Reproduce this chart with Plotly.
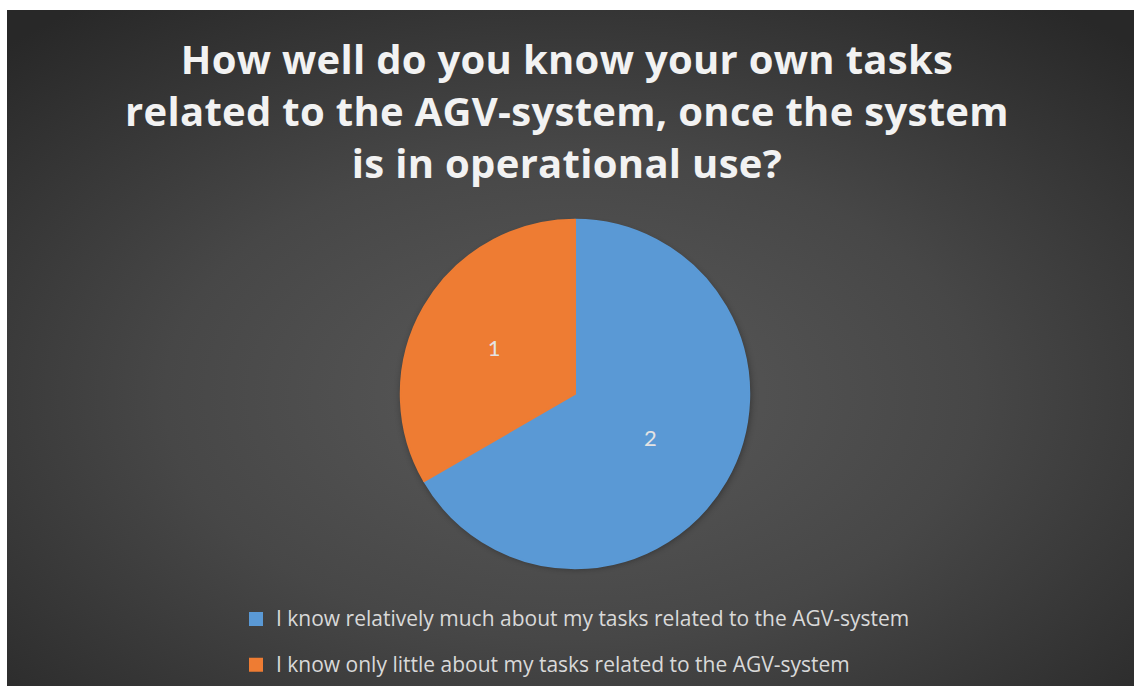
import base64
import plotly.graph_objects as go

# ---- data ----
labels = [
    "I know relatively much about my tasks related to the AGV-system",
    "I know only little about my tasks related to the AGV-system",
]
values = [2, 1]
colors = ["#5a99d5", "#ee7c33"]
title_lines = [
    "How well do you know your own tasks",
    "related to the AGV-system, once the system",
    "is in operational use?",
]

W, H = 1134, 693

# background radial gradient (chart area style) + soft pie shadow
bg_svg = (
    '<svg xmlns="http://www.w3.org/2000/svg" width="1127" height="683" viewBox="0 0 1127 683" preserveAspectRatio="none">'
    '<defs><radialGradient id="g" cx="0.5" cy="0.57" r="0.72" fx="0.5" fy="0.57">'
    '<stop offset="0" stop-color="#5a5a5a"/><stop offset="0.5" stop-color="#474747"/>'
    '<stop offset="1" stop-color="#282828"/></radialGradient>'
    '<filter id="b" x="-20%" y="-20%" width="140%" height="140%"><feGaussianBlur stdDeviation="4"/></filter></defs>'
    '<rect width="1127" height="683" fill="url(#g)"/>'
    '<circle cx="569" cy="390" r="174" fill="#000" fill-opacity="0.45" filter="url(#b)"/>'
    '</svg>'
)
bg_uri = "data:image/svg+xml;base64," + base64.b64encode(bg_svg.encode()).decode()

legend_labels = [
    '<span style="font-size:21px;baseline-shift:6px">' + l + "</span>" for l in labels
]

fig = go.Figure(
    go.Pie(
        labels=legend_labels,
        values=values,
        sort=False,
        direction="clockwise",
        rotation=0,
        marker=dict(colors=colors, line=dict(width=2, color=colors)),
        textinfo="value",
        textposition="inside",
        insidetextorientation="horizontal",
        textfont=dict(family="Lato", size=22, color="#e3e3e3"),
        domain=dict(x=[(575 - 175) / W, (575 + 175) / W], y=[1 - 574 / H, 1 - 222 / H]),
        hoverinfo="label+value",
    )
)

ls = '<span style="letter-spacing:0.3px">'
title_text = "<br>".join(ls + t + "</span>" for t in title_lines)
fig.update_layout(
    width=W,
    height=H,
    margin=dict(l=0, r=0, t=0, b=0),
    paper_bgcolor="white",
    plot_bgcolor="rgba(0,0,0,0)",
    title=dict(
        text=title_text,
        x=0.5,
        xanchor="center",
        y=1 - 74 / H,
        yanchor="top",
        font=dict(family="Open Sans", size=40, color="#f2f2f2", weight="bold"),
    ),
    showlegend=True,
    legend=dict(
        x=(246 - 10) / W,
        y=1 - 597 / H,
        xanchor="left",
        yanchor="top",
        font=dict(family="Open Sans", size=33, color="#d9d9d9"),
        bgcolor="rgba(0,0,0,0)",
        borderwidth=0,
        traceorder="normal",
    ),
    images=[
        dict(
            source=bg_uri,
            xref="paper",
            yref="paper",
            x=7 / W,
            y=1 - 10 / H,
            sizex=1127 / W,
            sizey=683 / H,
            xanchor="left",
            yanchor="top",
            sizing="stretch",
            layer="below",
        )
    ],
)

fig.write_html("out.html")
